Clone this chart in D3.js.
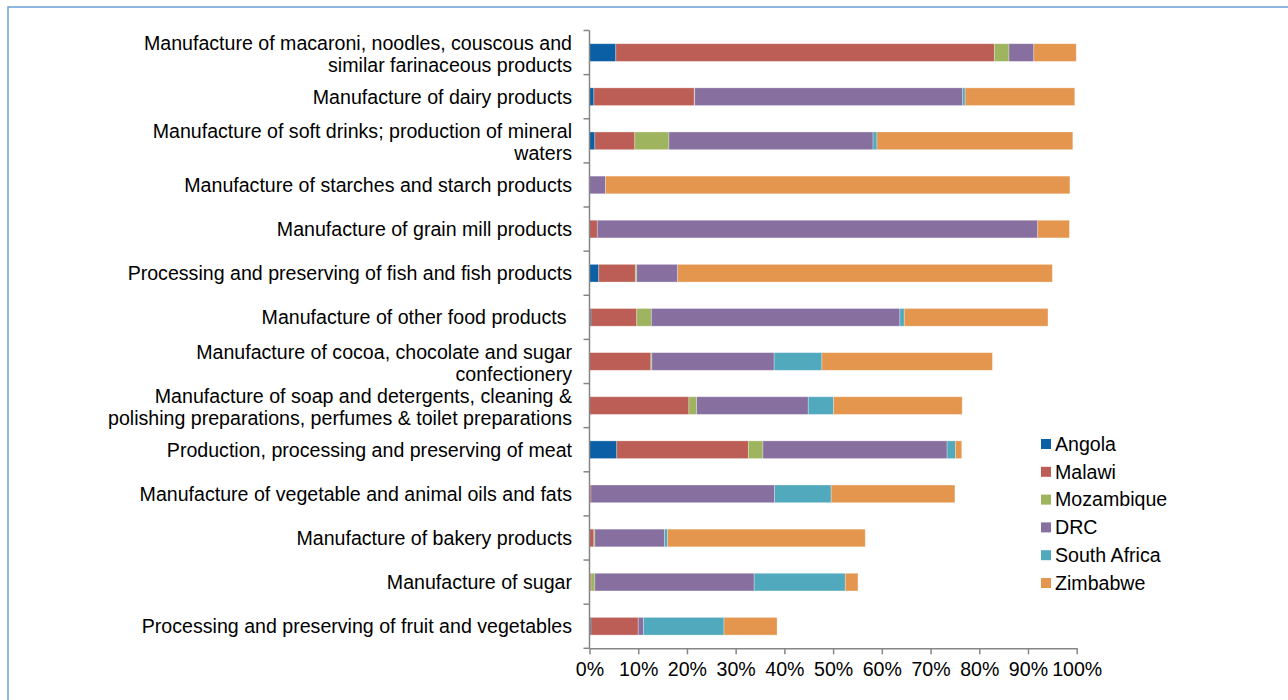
<!DOCTYPE html>
<html>
<head>
<meta charset="utf-8">
<script src="https://cdn.jsdelivr.net/npm/d3@7"></script>
<style>
  body { margin: 0; background: #fff; }
  svg text { font-family: "Liberation Sans", Arial, sans-serif; fill: #000; }
</style>
</head>
<body>
<div id="chart"></div>
<script>
//Categories, top to bottom (each entry = lines of the wrapped label)
var categories = [
  ["Manufacture of macaroni, noodles, couscous and", "similar farinaceous products"],
  ["Manufacture of dairy products"],
  ["Manufacture of soft drinks; production of mineral", "waters"],
  ["Manufacture of starches and starch products"],
  ["Manufacture of grain mill products"],
  ["Processing and preserving of fish and fish products"],
  ["Manufacture of other food products\u00a0"],
  ["Manufacture of cocoa, chocolate and sugar", "confectionery"],
  ["Manufacture of soap and detergents, cleaning &", "polishing preparations, perfumes & toilet preparations"],
  ["Production, processing and preserving of meat"],
  ["Manufacture of vegetable and animal oils and fats"],
  ["Manufacture of bakery products"],
  ["Manufacture of sugar"],
  ["Processing and preserving of fruit and vegetables"]
];
var countries = ["Angola", "Malawi", "Mozambique", "DRC", "South Africa", "Zimbabwe"];
//Series values (%), same order as categories
var angola      = [5.4, 0.9, 1.1, 0, 0, 1.9, 0.3, 0, 0, 5.6, 0, 0, 0, 0.3];
var malawi      = [77.7, 20.6, 8.2, 0, 1.6, 7.5, 9.4, 12.6, 20.4, 27.0, 0.3, 0.9, 0.3, 9.7];
var mozambique  = [3.0, 0.1, 7.0, 0, 0, 0.3, 3.0, 0.2, 1.6, 3.0, 0, 0.2, 0.8, 0];
var drc         = [5.1, 55.0, 41.9, 3.3, 90.4, 8.4, 51.0, 25.1, 22.9, 37.8, 37.7, 14.3, 32.7, 1.1];
var southAfrica = [0, 0.5, 0.8, 0, 0, 0, 0.9, 9.8, 5.2, 1.7, 11.6, 0.6, 18.7, 16.5];
var zimbabwe    = [8.7, 22.5, 40.2, 95.3, 6.5, 76.9, 29.5, 35.0, 26.4, 1.3, 25.4, 40.6, 2.6, 10.9];
var xTicks = [0, 10, 20, 30, 40, 50, 60, 70, 80, 90, 100];

var seriesValues = [angola, malawi, mozambique, drc, southAfrica, zimbabwe];
var colors = d3.scaleOrdinal()
  .domain(countries)
  .range(["#0B5FA5", "#BC5E55", "#9EB45E", "#876FA0", "#50A9BD", "#E5964E"]);

var width = 1288, height = 700;
var fontSize = "19.6px";
var svg = d3.select("#chart").append("svg")
  .attr("width", width).attr("height", height);

//outer frame (right and bottom run off the picture)
svg.append("rect")
  .attr("x", 8).attr("y", 7)
  .attr("width", 1300).attr("height", 720)
  .attr("fill", "none")
  .attr("stroke", "#6B9FD3")
  .attr("stroke-width", 1.5);

var x = d3.scaleLinear().domain([0, 100]).range([589.5, 1076.7]);
var y = d3.scaleBand()
  .domain(d3.range(categories.length))
  .range([30.5, 648.3])
  .paddingInner(0.6)
  .paddingOuter(0.3);

//build table for the stack
var table = categories.map(function(c, i) {
  var row = { idx: i };
  countries.forEach(function(k, j) { row[k] = seriesValues[j][i]; });
  return row;
});
var stacked = d3.stack().keys(countries)(table);

svg.append("g").selectAll("g")
  .data(stacked)
  .enter().append("g")
  .attr("fill", function(d) { return colors(d.key); })
  .selectAll("rect")
  .data(function(d) { return d; })
  .enter().append("rect")
  .attr("x", function(d) { return x(d[0]); })
  .attr("width", function(d) { return Math.max(0, x(d[1]) - x(d[0])); })
  .attr("y", function(d) { return y(d.data.idx); })
  .attr("height", y.bandwidth())
  .attr("stroke", "#fff")
  .attr("stroke-opacity", function(d) { return d[1] - d[0] > 0 ? 0.35 : 0; })
  .attr("stroke-width", 0.8);

//x axis
var xAxis = svg.append("g")
  .attr("transform", "translate(0," + 648.3 + ")")
  .call(d3.axisBottom(x).tickValues(xTicks).tickSizeInner(6).tickSizeOuter(0)
    .tickFormat(function(d) { return d + "%"; }));
xAxis.select(".domain").attr("stroke", "#868686").attr("stroke-width", 1.5);
xAxis.selectAll(".tick line").attr("stroke", "#868686").attr("stroke-width", 1.5);
xAxis.selectAll(".tick text")
  .attr("y", 14)
  .attr("font-size", fontSize)
  .attr("font-family", "Liberation Sans, Arial, sans-serif")
  .attr("fill", "#000");

//y axis line and category boundary ticks
var yAxis = svg.append("g");
yAxis.append("line")
  .attr("x1", x(0)).attr("x2", x(0))
  .attr("y1", y.range()[0]).attr("y2", y.range()[1])
  .attr("stroke", "#868686").attr("stroke-width", 1.5);
yAxis.selectAll("line.tk")
  .data(d3.range(categories.length + 1))
  .enter().append("line")
  .attr("class", "tk")
  .attr("x1", x(0) - 6).attr("x2", x(0))
  .attr("y1", function(i) { return y.range()[0] + i * y.step(); })
  .attr("y2", function(i) { return y.range()[0] + i * y.step(); })
  .attr("stroke", "#868686").attr("stroke-width", 1.5);

//category labels
var lineH = 22;
var labels = svg.append("g").selectAll("text")
  .data(categories)
  .enter().append("text")
  .attr("text-anchor", "end")
  .attr("font-size", fontSize)
  .attr("transform", function(d, i) {
    var cy = y(i) + y.bandwidth() / 2 + (d.length > 1 ? 1.5 : 0);
    return "translate(572," + cy + ")";
  });
labels.selectAll("tspan")
  .data(function(d) { return d.map(function(t, j) { return { t: t, j: j, n: d.length }; }); })
  .enter().append("tspan")
  .attr("x", 0)
  .attr("y", function(d) { return (d.j - (d.n - 1) / 2) * lineH; })
  .attr("dy", "0.35em")
  .text(function(d) { return d.t; });

//legend
var legend = svg.append("g").selectAll("g")
  .data(countries)
  .enter().append("g")
  .attr("transform", function(d, i) { return "translate(1041," + (444 + i * 27.8) + ")"; });
legend.append("rect")
  .attr("x", 0).attr("y", -5)
  .attr("width", 10).attr("height", 10)
  .attr("fill", function(d) { return colors(d); });
legend.append("text")
  .attr("x", 14)
  .attr("dy", "0.35em")
  .attr("font-size", fontSize)
  .text(function(d) { return d; });
</script>
</body>
</html>
